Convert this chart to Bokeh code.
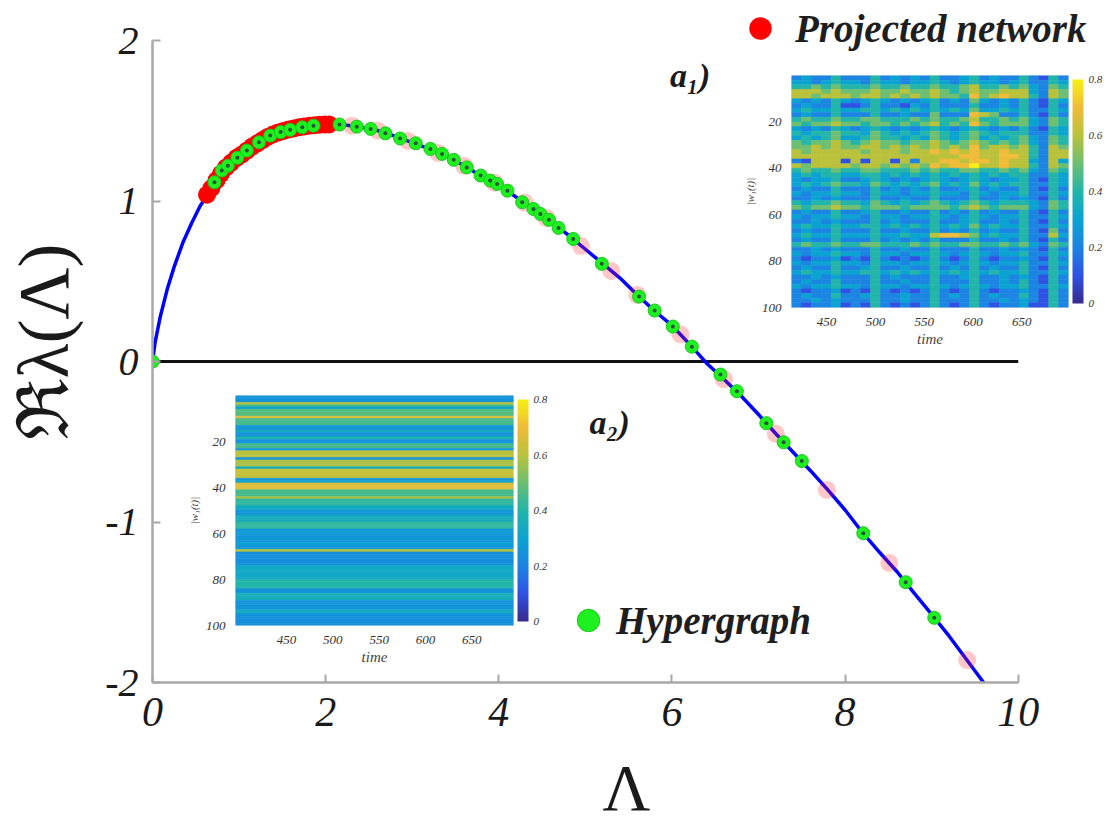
import numpy as np
from bokeh.plotting import figure
from bokeh.models import (Range1d, FixedTicker, Label, ColorBar, LinearColorMapper,
                          ColumnDataSource, Legend, LegendItem)
from bokeh.embed import file_html
from bokeh.resources import INLINE
from bokeh.transform import transform

SERIF = "Liberation Serif, DejaVu Serif, serif"

# ---------------- data ----------------
curve_L = [0, 0.03, 0.09, 0.17, 0.25, 0.35, 0.45, 0.55, 0.65, 0.8, 1.0, 1.2, 1.4, 1.6, 1.8,
           2.0, 2.2, 2.4, 2.6, 2.8, 3.0, 3.2, 3.4, 3.6, 3.8, 4.0, 4.2, 4.4, 4.6, 4.8, 5.0,
           5.2, 5.4, 5.6, 5.8, 6.0, 6.2, 6.4, 6.6, 6.8, 7.0, 7.2, 7.4, 7.6, 7.8, 8.0, 8.2,
           8.4, 8.6, 8.8, 9.0, 9.2, 9.4, 9.6]
curve_y = [0, 0.12, 0.28, 0.45, 0.59, 0.74, 0.86, 0.97, 1.05, 1.18, 1.28, 1.36, 1.42, 1.455,
           1.47, 1.478, 1.476, 1.462, 1.44, 1.405, 1.365, 1.325, 1.28, 1.22, 1.155, 1.10,
           1.025, 0.95, 0.875, 0.79, 0.70, 0.61, 0.52, 0.415, 0.315, 0.225, 0.11, -0.01,
           -0.11, -0.215, -0.33, -0.45, -0.565, -0.68, -0.80, -0.925, -1.065, -1.19, -1.31,
           -1.445, -1.575, -1.71, -1.855, -2.0]

red_arc_L = [0.63, 0.68, 0.74, 0.79, 0.85, 0.91, 0.97, 1.03, 1.09, 1.15, 1.21, 1.27, 1.33,
             1.39, 1.45, 1.51, 1.57, 1.63, 1.69, 1.75, 1.81, 1.87, 1.93, 1.99, 2.04]
red_arc_y = [1.04, 1.08, 1.13, 1.17, 1.21, 1.24, 1.27, 1.29, 1.315, 1.34, 1.36, 1.38, 1.40,
             1.415, 1.427, 1.437, 1.446, 1.453, 1.46, 1.465, 1.47, 1.473, 1.476, 1.478, 1.478]
red_tail_L = [2.3, 2.6, 2.95, 3.3, 3.6, 3.95, 4.3, 4.55, 4.95, 5.3, 5.6, 6.1, 6.6, 7.2,
              7.79, 8.51, 9.41]
red_tail_y = [1.47, 1.44, 1.375, 1.30, 1.22, 1.115, 0.99, 0.895, 0.72, 0.565, 0.415, 0.17,
              -0.11, -0.45, -0.80, -1.255, -1.86]

green_L = [0, 0.716, 0.80, 0.87, 0.98, 1.09, 1.23, 1.36, 1.48, 1.59, 1.73, 1.86, 2.16, 2.36,
           2.52, 2.69, 2.86, 3.04, 3.21, 3.345, 3.48, 3.63, 3.79, 3.90, 3.98, 4.10, 4.27,
           4.40, 4.48, 4.58, 4.69, 4.86, 5.19, 5.62, 5.80, 6.01, 6.23, 6.56, 6.75, 7.09,
           7.29, 7.50, 8.21, 8.70, 9.03]
green_y = [0, 1.117, 1.19, 1.22, 1.27, 1.315, 1.366, 1.408, 1.43, 1.444, 1.46, 1.47, 1.477,
           1.464, 1.45, 1.422, 1.39, 1.36, 1.325, 1.294, 1.257, 1.21, 1.159, 1.128, 1.107,
           1.065, 0.993, 0.951, 0.92, 0.883, 0.833, 0.764, 0.609, 0.405, 0.318, 0.218,
           0.093, -0.081, -0.185, -0.384, -0.503, -0.62, -1.07, -1.375, -1.597]

x_ticks = [0, 2, 4, 6, 8, 10]
y_ticks = [-2, -1, 0, 1, 2]
inset_x_ticks = [450, 500, 550, 600, 650]
inset_y_ticks = [20, 40, 60, 80, 100]
cbar_ticks = [0, 0.2, 0.4, 0.6, 0.8]

# inset a1: |w1(t)|, 50 row-pairs x 28 time bins (digit = value*10), time 414..698
a1_rows = [
    "2322|42|22|4|23232|4|223|4|2322|4|21|4|2",
    "3323|43|32|4|33233|4|323|4|3323|4|22|4|3",
    "4454|54|44|5|44544|5|445|6|4454|5|32|5|4",
    "6665|65|55|6|55655|6|545|6|5566|6|32|6|5",
    "6656|66|56|6|56565|6|554|7|5676|6|42|6|5",
    "3232|43|23|4|32323|4|232|5|3232|4|21|4|3",
    "2322|41|12|4|22132|4|222|4|2232|4|21|4|2",
    "3433|43|34|4|34343|4|343|5|3343|4|22|4|3",
    "2322|42|22|4|22322|5|222|7|6522|4|21|4|2",
    "4544|54|45|5|44454|5|445|6|4454|5|32|5|4",
    "5455|65|54|5|54545|6|454|7|5455|5|32|5|4",
    "3232|43|23|4|32323|4|323|4|3232|4|21|4|3",
    "4344|54|43|5|43434|5|434|5|4344|4|22|4|3",
    "3434|53|34|5|44343|5|434|5|3434|5|32|5|4",
    "5455|65|45|6|55455|6|545|6|5454|5|32|5|4",
    "5565|65|56|6|56565|6|565|7|5665|6|42|6|5",
    "6566|66|65|6|66566|7|676|7|6676|6|42|6|6",
    "6666|66|66|6|66666|6|667|7|6677|6|42|6|6",
    "2166|61|61|6|61626|6|776|7|7676|6|32|6|3",
    "6566|66|56|6|56565|7|677|8|6676|6|42|6|5",
    "4544|54|45|5|44454|5|445|5|4454|5|32|5|4",
    "3434|43|34|4|34343|4|343|4|3434|4|22|4|3",
    "3233|42|23|4|32323|4|323|4|3233|4|21|4|3",
    "3434|54|43|5|43434|5|343|5|3434|4|22|4|3",
    "2322|42|22|4|23232|4|223|4|2322|4|21|4|2",
    "3233|43|32|4|33233|4|332|4|3233|4|22|4|3",
    "2232|32|22|4|22322|4|222|4|2232|3|21|4|2",
    "4344|54|43|5|43434|5|434|5|4344|4|32|5|4",
    "5455|65|54|5|55455|5|545|6|5455|5|32|5|4",
    "2322|42|23|4|22322|4|232|4|2322|4|21|4|2",
    "3233|43|32|4|33233|4|323|4|3233|4|22|4|3",
    "2232|32|22|4|23222|4|223|4|2232|4|21|4|2",
    "3433|43|34|4|34343|4|343|5|3433|4|22|4|3",
    "2322|42|22|4|22322|4|232|4|2322|4|21|5|2",
    "3433|43|33|4|33433|6|776|5|3433|4|22|6|3",
    "2322|42|22|4|23232|4|222|4|2232|4|21|4|2",
    "4544|54|45|5|44454|5|445|5|4454|5|32|5|4",
    "2232|32|22|4|22322|4|222|4|2232|3|21|4|2",
    "3233|43|32|4|33233|4|323|4|3233|4|22|4|3",
    "2122|31|21|4|21212|4|212|4|2122|3|21|4|2",
    "3233|43|32|4|33233|4|323|4|3233|4|22|4|3",
    "2322|42|23|4|22322|4|232|4|2322|4|21|4|2",
    "3433|43|34|4|34343|4|343|4|3433|4|22|4|3",
    "2232|32|22|4|23222|4|223|4|2232|3|21|4|2",
    "2322|42|22|4|22322|4|222|4|2232|4|21|4|2",
    "3233|43|32|4|33233|4|323|4|3233|4|22|4|3",
    "2122|31|21|4|21212|4|212|4|2122|3|21|4|2",
    "2322|42|23|4|22322|4|232|4|2322|4|21|4|2",
    "2232|32|22|4|22322|4|222|4|2232|3|21|4|2",
    "2122|31|21|4|21212|4|212|4|2122|3|11|4|2",
]
a1_time = (414, 698)

# inset a2: |w1(t)| constant in time, 100 rows (values in hundredths), time 395..695
a2_rows = [25, 25, 25, 60, 45, 30, 47, 47, 47, 66, 45, 45, 45, 25, 25, 35, 25, 25, 40, 25,
           25, 45, 45, 25, 60, 60, 60, 25, 58, 58, 58, 35, 62, 62, 62, 62, 25, 30, 66, 66,
           66, 45, 45, 45, 58, 42, 42, 42, 33, 33, 25, 25, 35, 35, 35, 42, 42, 42, 27, 27,
           27, 25, 27, 25, 30, 25, 27, 60, 24, 24, 24, 24, 24, 24, 33, 33, 33, 33, 33, 33,
           40, 40, 40, 40, 25, 25, 36, 36, 36, 25, 25, 25, 25, 33, 33, 24, 24, 24, 24, 24]
a2_time = (395, 695)


def parula_like(n=256):
    anchors = ["#372a8f", "#2f52e4", "#1c84e2", "#0ba3d2", "#22b5aa",
               "#6cbf72", "#b9c23c", "#f0bb3a", "#f6f014"]
    rgb = np.array([[int(a[i:i + 2], 16) for i in (1, 3, 5)] for a in anchors], float)
    t = np.linspace(0, 1, len(anchors))
    tt = np.linspace(0, 1, n)
    cols = np.stack([np.interp(tt, t, rgb[:, k]) for k in range(3)], 1)
    return ["#%02x%02x%02x" % tuple(int(round(c)) for c in row) for row in cols]


PAL = parula_like()

# ---------------- main figure ----------------
p = figure(x_range=Range1d(0, 10.95), y_range=Range1d(-2, 2.25),
           frame_width=948, frame_height=682,
           min_border_left=152, min_border_right=2, min_border_top=0, min_border_bottom=143,
           output_backend="svg", toolbar_location=None)
p.outline_line_color = None
p.xgrid.visible = False
p.ygrid.visible = False
p.background_fill_color = "white"
p.border_fill_color = "white"

for ax, ticks, bnd in ((p.xaxis, x_ticks, (0, 10)), (p.yaxis, y_ticks, (-2, 2))):
    ax.bounds = bnd
    ax.ticker = FixedTicker(ticks=ticks)
    ax.major_label_overrides = {t: str(t) for t in ticks}
    ax.minor_tick_line_color = None
    ax.major_tick_in = 8
    ax.major_tick_out = 0
    ax.axis_line_color = "#a8a8a8"
    ax.axis_line_width = 2.5
    ax.major_tick_line_color = "#a8a8a8"
    ax.major_tick_line_width = 2
    ax.major_label_text_font = SERIF
    ax.major_label_text_font_style = "italic"
    ax.major_label_text_color = "#1a1a1a"
    ax.axis_label_text_font = SERIF
    ax.axis_label_text_font_style = "normal"
    ax.axis_label_text_color = "#1a1a1a"
p.xaxis.major_label_text_font_size = "42px"
p.xaxis.major_label_standoff = 15
p.xaxis.axis_label = "Λ"
p.xaxis.axis_label_text_font_size = "66px"
p.xaxis.axis_label_standoff = 22
p.yaxis.major_label_text_font_size = "40px"
p.yaxis.major_label_standoff = 14
p.yaxis.axis_label = "ℜλ(Λ)"
p.yaxis.axis_label_text_font_size = "72px"
p.yaxis.axis_label_standoff = 18

# zero line spanning the tick range
p.segment(x0=[x_ticks[0]], x1=[x_ticks[-1]], y0=[0], y1=[0], line_color="#111111", line_width=3)

p.line(curve_L, curve_y, line_color="#0000ff", line_width=3.5)
p.scatter(red_tail_L, red_tail_y, size=18, fill_color="#ff2020", line_color=None, fill_alpha=0.25)
r_red = p.scatter(red_arc_L, red_arc_y, size=18, fill_color="#ff0000", line_color=None)
r_green = p.scatter(green_L, green_y, size=13, fill_color="#1ff01f", line_color="#18c818",
                    line_width=1)
p.scatter(green_L, green_y, size=4, fill_color="#26553a", line_color=None)

leg_common = dict(glyph_width=56, glyph_height=58, padding=0, margin=0, spacing=0,
                  background_fill_alpha=0, border_line_alpha=0,
                  label_text_font=SERIF, label_text_font_style="bold italic",
                  label_text_font_size="39px", label_text_color="#1e1e1e")
legA = Legend(items=[LegendItem(label="Projected network", renderers=[r_red])],
              location=(580, 625), label_standoff=7, **leg_common)
legB = Legend(items=[LegendItem(label="Hypergraph", renderers=[r_green])],
              location=(408, 33), label_standoff=0, **leg_common)
p.add_layout(legA)
p.add_layout(legB)

label_common = dict(text_font=SERIF, text_align="center", text_baseline="middle",
                    text_color="#1a1a1a", text_font_style="bold italic", text_font_size="34px")
p.add_layout(Label(x=6.21, y=1.78, text="a₁)", **label_common))
p.add_layout(Label(x=5.28, y=-0.38, text="a₂)", **label_common))


# ---------------- insets ----------------
mapper = LinearColorMapper(palette=PAL, low=0, high=0.8)


def make_inset(grid, trange, left, top, fw, fh):
    grid = np.asarray(grid, float)
    nr, nc = grid.shape
    t_edges = np.linspace(trange[0], trange[1], nc + 1)
    r_edges = np.linspace(0, 100, nr + 1)
    L = np.tile(t_edges[:-1], nr)
    R = np.tile(t_edges[1:], nr)
    T = np.repeat(r_edges[:-1], nc)
    B = np.repeat(r_edges[1:], nc)
    src = ColumnDataSource(dict(l=L, r=R, t=T, b=B, v=grid.ravel()))
    f = figure(x_range=Range1d(*trange), y_range=Range1d(100, 0),
               frame_width=fw, frame_height=fh,
               min_border_left=48, min_border_right=8, min_border_top=10, min_border_bottom=44,
               output_backend="svg", toolbar_location=None,
               styles={"position": "absolute", "left": f"{left}px", "top": f"{top}px"})
    f.border_fill_alpha = 0
    f.background_fill_alpha = 0
    f.outline_line_color = "#e6e6e6"
    f.xgrid.visible = False
    f.ygrid.visible = False
    f.quad(left="l", right="r", top="t", bottom="b", source=src,
           fill_color=transform("v", mapper), line_color=transform("v", mapper), line_width=0.6)
    f.xaxis.ticker = FixedTicker(ticks=inset_x_ticks)
    f.yaxis.ticker = FixedTicker(ticks=inset_y_ticks)
    for ax in (f.xaxis, f.yaxis):
        ax.axis_line_color = None
        ax.major_tick_line_color = None
        ax.minor_tick_line_color = None
        ax.major_label_text_font = SERIF
        ax.major_label_text_font_style = "italic"
        ax.major_label_text_font_size = "13px"
        ax.major_label_text_color = "#333333"
        ax.major_label_standoff = 4
        ax.axis_label_text_font = SERIF
        ax.axis_label_text_font_style = "italic"
        ax.axis_label_text_color = "#444444"
    f.xaxis.axis_label = "time"
    f.xaxis.axis_label_text_font_size = "15px"
    f.xaxis.axis_label_standoff = 2
    f.yaxis.axis_label = "|w₁(t)|"
    f.yaxis.axis_label_text_font_size = "11px"
    f.yaxis.axis_label_standoff = 3
    cb = ColorBar(color_mapper=mapper, ticker=FixedTicker(ticks=cbar_ticks), width=11,
                  padding=4, margin=0, label_standoff=5, bar_line_color=None,
                  major_tick_line_color=None, minor_tick_line_color=None,
                  major_label_overrides={0: "0"},
                  major_label_text_font=SERIF, major_label_text_font_style="italic",
                  major_label_text_font_size="11px", major_label_text_color="#333333",
                  background_fill_alpha=0)
    f.add_layout(cb, "right")
    return f


a1_grid = [[int(ch) / 10 for ch in row.replace("|", "")] for row in a1_rows]
a2_grid = [[v / 100] for v in a2_rows]

ins1 = make_inset(a1_grid, a1_time, 740, 65, 277, 232)
ins2 = make_inset(a2_grid, a2_time, 184, 385, 278, 230)

open("out.html", "w").write(file_html([p, ins1, ins2], INLINE))
